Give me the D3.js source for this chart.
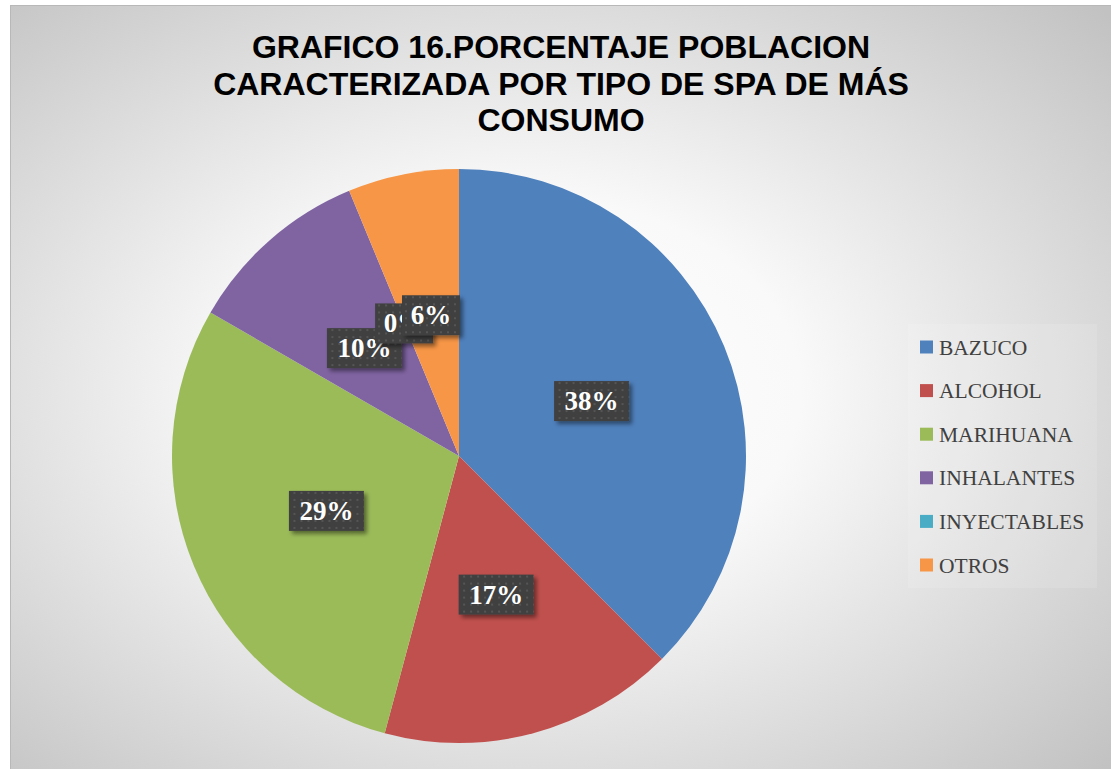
<!DOCTYPE html>
<html>
<head>
<meta charset="utf-8">
<script src="https://cdn.jsdelivr.net/npm/d3@7"></script>
<style>
    html, body { margin: 0; padding: 0; background: #ffffff; }
    svg { display: block; }
</style>
</head>
<body>
<svg id="chart" width="1111" height="769"></svg>
<script>
// Data (counts, shown as percentages)
const categories = ["BAZUCO", "ALCOHOL", "MARIHUANA", "INHALANTES", "INYECTABLES", "OTROS"];
const counts = [18, 8, 14, 5, 0, 3];
const colors = ["#4F81BD", "#C0504D", "#9BBB59", "#8064A2", "#4BACC6", "#F79646"];
const titleLines = ["GRAFICO 16.PORCENTAJE POBLACION", "CARACTERIZADA POR TIPO DE SPA DE MÁS", "CONSUMO"];

const svg = d3.select("#chart");
const defs = svg.append("defs");

// Background gradient (light centre, grey edges)
const bg = defs.append("radialGradient")
    .attr("id", "bgGrad")
    .attr("cx", "0.46").attr("cy", "0.5").attr("r", "0.72");
bg.append("stop").attr("offset", "0").attr("stop-color", "#ffffff");
bg.append("stop").attr("offset", "0.35").attr("stop-color", "#f9f9f9");
bg.append("stop").attr("offset", "1").attr("stop-color", "#c2c2c2");

// Dotted pattern for the label boxes
const pat = defs.append("pattern")
    .attr("id", "dots")
    .attr("patternUnits", "userSpaceOnUse")
    .attr("width", 7).attr("height", 7);
pat.append("rect").attr("width", 7).attr("height", 7).attr("fill", "#404040");
pat.append("rect").attr("x", 2).attr("y", 2).attr("width", 2).attr("height", 2).attr("fill", "#555555");

// Shadow behind the label boxes
const shadow = defs.append("filter")
    .attr("id", "shadow")
    .attr("x", "-30%").attr("y", "-30%").attr("width", "160%").attr("height", "160%");
shadow.append("feDropShadow")
    .attr("dx", 3).attr("dy", 3)
    .attr("stdDeviation", 2)
    .attr("flood-color", "#000000")
    .attr("flood-opacity", 0.45);

// Chart area
svg.append("rect")
    .attr("x", 10.5).attr("y", 5.5)
    .attr("width", 1110).attr("height", 770)
    .attr("fill", "url(#bgGrad)")
    .attr("stroke", "#b8b8b8");

// Title
const title = svg.append("text")
    .attr("text-anchor", "middle")
    .attr("font-family", "'Liberation Sans', Arial, sans-serif")
    .attr("font-weight", "bold")
    .attr("font-size", 32)
    .attr("fill", "#000000");
titleLines.forEach((line, i) => {
    title.append("tspan")
        .attr("x", 561)
        .attr("y", 58 + i * 36.5)
        .text(line);
});

// Pie
const cx = 459, cy = 456, radius = 287;
const total = d3.sum(counts);
const pie = d3.pie().sort(null).value(d => d.value);
const arc = d3.arc().innerRadius(0).outerRadius(radius);
const slices = pie(categories.map((c, i) => ({ name: c, value: counts[i], color: colors[i] })));

const pieG = svg.append("g").attr("transform", `translate(${cx},${cy})`);
pieG.selectAll("path")
    .data(slices)
    .join("path")
    .attr("d", arc)
    .attr("fill", d => d.data.color);

// Data labels (dark boxes with white text)
const labelG = pieG.append("g");
slices.forEach(d => {
    const [lx, ly] = arc.centroid(d);
    const label = Math.round(d.data.value / total * 100) + "%";
    const g = labelG.append("g").attr("transform", `translate(${lx},${ly})`);
    const boxW = label.length === 3 ? 75 : 58;
    g.append("rect")
        .attr("x", -boxW / 2).attr("y", -20)
        .attr("width", boxW).attr("height", 40)
        .attr("fill", "url(#dots)")
        .attr("filter", "url(#shadow)");
    g.append("text")
        .attr("text-anchor", "middle")
        .attr("y", 9)
        .attr("font-family", "'Liberation Serif', 'Times New Roman', serif")
        .attr("font-weight", "bold")
        .attr("font-size", 27)
        .attr("fill", "#ffffff")
        .text(label);
});

// Legend
const legendY = d3.scalePoint().domain(categories).range([347, 565]);
svg.append("rect")
    .attr("x", 908).attr("y", 324)
    .attr("width", 189).attr("height", 264)
    .attr("fill", "#ffffff").attr("fill-opacity", 0.12);
const legend = svg.append("g");
categories.forEach((c, i) => {
    const y = legendY(c);
    legend.append("rect")
        .attr("x", 920).attr("y", y - 6.5)
        .attr("width", 13).attr("height", 13)
        .attr("fill", colors[i]);
    legend.append("text")
        .attr("x", 939).attr("y", y + 7.5)
        .attr("font-family", "'Liberation Serif', 'Times New Roman', serif")
        .attr("font-size", 21.5)
        .attr("fill", "#404040")
        .text(c);
});
</script>
</body>
</html>
